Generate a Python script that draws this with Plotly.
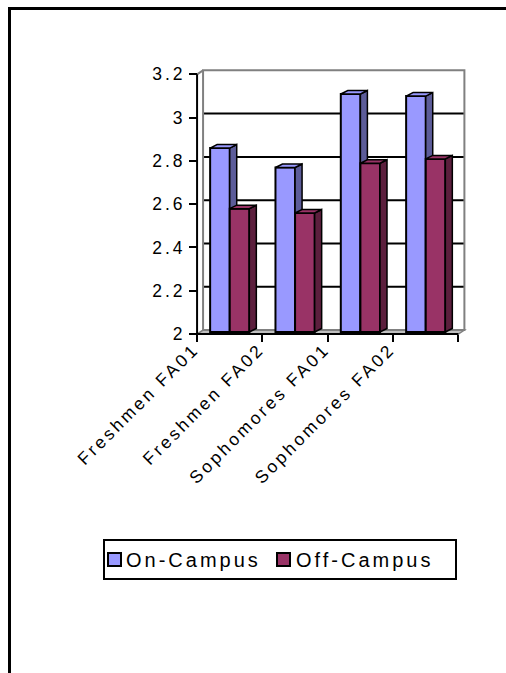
import plotly.graph_objects as go

# ---- data ----
categories = ["Freshmen FA01", "Freshmen FA02", "Sophomores FA01", "Sophomores FA02"]
series_names = ["On-Campus", "Off-Campus"]
on_campus = [2.85, 2.76, 3.10, 3.09]
off_campus = [2.57, 2.55, 2.78, 2.80]
y_ticks = [2, 2.2, 2.4, 2.6, 2.8, 3, 3.2]
y_tick_labels = ["2", "2.2", "2.4", "2.6", "2.8", "3", "3.2"]

# ---- layout geometry ----
W, H = 506, 673
ML, MR, MT, MB = 184, 28, 57, 326
PW, PH = W - ML - MR, H - MT - MB
X_RANGE = [-0.7, 3.8]
Y_RANGE = [1.94, 3.28]
Y_LO, Y_HI = y_ticks[0], y_ticks[-1]

px_x = PW / (X_RANGE[1] - X_RANGE[0])
px_y = PH / (Y_RANGE[1] - Y_RANGE[0])

# depth offsets of the 3-D box, expressed in axis units
WALL_DX, WALL_DY = 6 / px_x, 4 / px_y
BAR_DX, BAR_DY = 7 / px_x, 3.5 / px_y
BAR_PLANE = 2 / px_y          # bars stand slightly behind the front edge
BAR_W = 0.3

n = len(categories)
x_lo, x_hi = -0.5, n - 0.5

FONT = "Arial, 'Liberation Sans', sans-serif"
TICK_SIZE = 17.5
LEGEND_SIZE = 20
BLUE, BLUE_SIDE = "#9999FF", "#5C5C99"
RED, RED_SIDE = "#993366", "#5C1F3D"
GRAY = "#808080"


def px_to_paper(px, py):
    return (px - ML) / PW, 1 - (py - MT) / PH


fig = go.Figure()


def add_series(values, name, offset, face, side, yref):
    xs = list(range(n))
    fig.add_trace(go.Bar(
        x=xs, y=[v - Y_LO for v in values], base=Y_LO,
        width=BAR_W, offset=offset, name=name, showlegend=False,
        marker=dict(color=face, line=dict(color="black", width=2)),
        xaxis="x", yaxis=yref, hoverinfo="skip",
    ))
    sx, sy, tx, ty = [], [], [], []
    for i, v in enumerate(values):
        xl = i + offset
        xr = xl + BAR_W
        # right-hand side face
        sx += [xr, xr, xr + BAR_DX, xr + BAR_DX, xr, None]
        sy += [Y_LO, v, v + BAR_DY, Y_LO + BAR_DY, Y_LO, None]
        # top face
        tx += [xl, xr, xr + BAR_DX, xl + BAR_DX, xl, None]
        ty += [v, v, v + BAR_DY, v + BAR_DY, v, None]
    fig.add_trace(go.Scatter(
        x=sx, y=sy, mode="lines", fill="toself", fillcolor=side,
        line=dict(color="black", width=1.5), showlegend=False,
        hoverinfo="skip", xaxis="x", yaxis=yref))
    fig.add_trace(go.Scatter(
        x=tx, y=ty, mode="lines", fill="toself", fillcolor=face,
        line=dict(color="black", width=1.5), showlegend=False,
        hoverinfo="skip", xaxis="x", yaxis=yref))


add_series(on_campus, series_names[0], -BAR_W, BLUE, BLUE_SIDE, "y2")
add_series(off_campus, series_names[1], 0.0, RED, RED_SIDE, "y3")

shapes = []
# floor
shapes.append(dict(
    type="path", xref="x", yref="y", layer="below",
    path=(f"M {x_lo},{Y_LO} L {x_hi},{Y_LO} L {x_hi + WALL_DX},{Y_LO + WALL_DY} "
          f"L {x_lo + WALL_DX},{Y_LO + WALL_DY} Z"),
    fillcolor="#C0C0C0", line=dict(color=GRAY, width=1.5)))
# back-wall gridlines
for v in y_ticks[1:-1]:
    shapes.append(dict(
        type="line", xref="x", yref="y", layer="below",
        x0=x_lo + WALL_DX, x1=x_hi + WALL_DX, y0=v + WALL_DY, y1=v + WALL_DY,
        line=dict(color="black", width=2)))
# back-wall outline
shapes.append(dict(
    type="rect", xref="x", yref="y", layer="below",
    x0=x_lo + WALL_DX, x1=x_hi + WALL_DX, y0=Y_LO + WALL_DY, y1=Y_HI + WALL_DY,
    line=dict(color=GRAY, width=2)))
# side-wall top edge
shapes.append(dict(
    type="line", xref="x", yref="y", layer="below",
    x0=x_lo, x1=x_lo + WALL_DX, y0=Y_HI, y1=Y_HI + WALL_DY,
    line=dict(color=GRAY, width=2)))
# front value axis and category axis lines
shapes.append(dict(type="line", xref="x", yref="y", x0=x_lo, x1=x_lo,
                   y0=Y_LO, y1=Y_HI, line=dict(color="black", width=2)))
shapes.append(dict(type="line", xref="x", yref="y", x0=x_lo, x1=x_hi,
                   y0=Y_LO, y1=Y_LO, line=dict(color="black", width=2)))
# chart-area frame
fx0, fy0 = px_to_paper(9.5, 8.5)
fx1, fy1 = px_to_paper(W + 20, H + 20)
shapes.append(dict(type="rect", xref="paper", yref="paper",
                   x0=fx0, x1=fx1, y0=fy1, y1=fy0,
                   line=dict(color="black", width=3)))

# legend: framed box with a swatch and a label per series
annotations = []
bx0, by0 = px_to_paper(104, 540)
bx1, by1 = px_to_paper(456, 579)
shapes.append(dict(type="rect", xref="paper", yref="paper",
                   x0=bx0, x1=bx1, y0=by1, y1=by0, fillcolor="white",
                   line=dict(color="black", width=2)))
LEG_SWATCH_X = [108, 277]
LEG_TEXT_X = [124, 294]
LEG_MID_Y = 559.5
SW = 13
for name, color, sx_px, tx_px in zip(series_names, [BLUE, RED], LEG_SWATCH_X, LEG_TEXT_X):
    sx0, sy0 = px_to_paper(sx_px, LEG_MID_Y - SW / 2)
    sx1, sy1 = px_to_paper(sx_px + SW, LEG_MID_Y + SW / 2)
    shapes.append(dict(type="rect", xref="paper", yref="paper",
                       x0=sx0, x1=sx1, y0=sy1, y1=sy0, fillcolor=color,
                       line=dict(color="black", width=2)))
    ax, ay = px_to_paper(tx_px, LEG_MID_Y)
    annotations.append(dict(
        xref="paper", yref="paper", x=ax, y=ay, xanchor="left", yanchor="middle",
        align="left", text=name, showarrow=False,
        font=dict(family=FONT, size=LEGEND_SIZE, color="black")))

fig.update_layout(
    width=W, height=H,
    margin=dict(l=ML, r=MR, t=MT, b=MB, autoexpand=False),
    paper_bgcolor="white", plot_bgcolor="rgba(0,0,0,0)",
    font=dict(family=FONT, size=TICK_SIZE, color="black"),
    showlegend=False,
    shapes=shapes,
    annotations=annotations,
    xaxis=dict(
        range=X_RANGE, anchor="free",
        position=(Y_LO - Y_RANGE[0]) / (Y_RANGE[1] - Y_RANGE[0]),
        tickmode="array", tickvals=[i - 0.5 for i in range(n + 1)],
        ticktext=categories + [""], tickangle=-45,
        ticklabelstandoff=-10, ticklabelshift=-3,
        ticks="outside", ticklen=7, tickwidth=2, tickcolor="black",
        showgrid=False, zeroline=False, showline=False, automargin=False,
        tickfont=dict(family=FONT, size=TICK_SIZE),
    ),
    yaxis=dict(
        range=Y_RANGE, anchor="free",
        position=(x_lo - X_RANGE[0]) / (X_RANGE[1] - X_RANGE[0]),
        tickmode="array", tickvals=y_ticks, ticktext=y_tick_labels,
        ticks="outside", ticklen=8, tickwidth=2, tickcolor="black",
        showgrid=False, zeroline=False, showline=False, automargin=False,
        tickfont=dict(family=FONT, size=TICK_SIZE),
    ),
    yaxis2=dict(range=[Y_RANGE[0] - BAR_PLANE, Y_RANGE[1] - BAR_PLANE],
                overlaying="y", visible=False),
    yaxis3=dict(range=[Y_RANGE[0] - BAR_PLANE, Y_RANGE[1] - BAR_PLANE],
                overlaying="y", visible=False),
)

# wide character spacing for the axis and legend labels
spacing_js = """
var gd = document.getElementById('{plot_id}');
var nodes = gd.querySelectorAll('.xtick text, .ytick text, .annotation-text');
for (var i = 0; i < nodes.length; i++) {
    nodes[i].style.letterSpacing = '3px';
}
"""

fig.write_html("out.html", post_script=spacing_js)
